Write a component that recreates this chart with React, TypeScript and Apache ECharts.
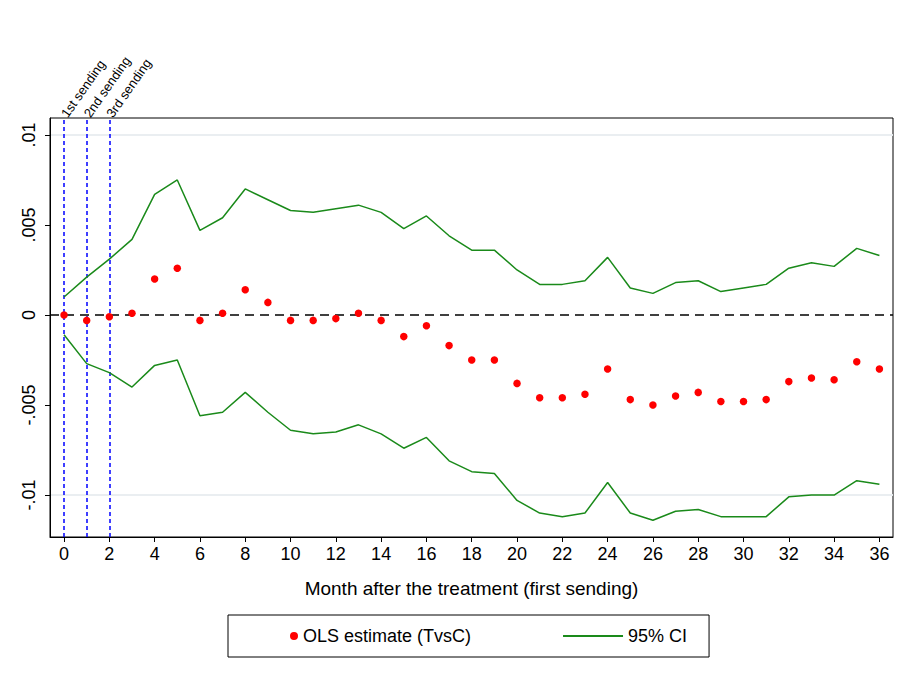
import { useEffect, useRef } from "react";
import * as echarts from "echarts";

const months = Array.from({ length: 37 }, (_, i) => i);
const estimate = [0, -0.0003, -0.0001, 0.0001, 0.002, 0.0026, -0.0003, 0.0001, 0.0014, 0.0007, -0.0003, -0.0003, -0.0002, 0.0001, -0.0003, -0.0012, -0.0006, -0.0017, -0.0025, -0.0025, -0.0038, -0.0046, -0.0046, -0.0044, -0.003, -0.0047, -0.005, -0.0045, -0.0043, -0.0048, -0.0048, -0.0047, -0.0037, -0.0035, -0.0036, -0.0026, -0.003];
const upper = [0.001, 0.0021, 0.0031, 0.0042, 0.0067, 0.0075, 0.0047, 0.0054, 0.007, 0.0064, 0.0058, 0.0057, 0.0059, 0.0061, 0.0057, 0.0048, 0.0055, 0.0044, 0.0036, 0.0036, 0.0025, 0.0017, 0.0017, 0.0019, 0.0032, 0.0015, 0.0012, 0.0018, 0.0019, 0.0013, 0.0015, 0.0017, 0.0026, 0.0029, 0.0027, 0.0037, 0.0033];
const lower = [-0.0011, -0.0027, -0.0032, -0.004, -0.0028, -0.0025, -0.0056, -0.0054, -0.0043, -0.0054, -0.0064, -0.0066, -0.0065, -0.0061, -0.0066, -0.0074, -0.0068, -0.0081, -0.0087, -0.0088, -0.0103, -0.011, -0.0112, -0.011, -0.0093, -0.011, -0.0114, -0.0109, -0.0108, -0.0112, -0.0112, -0.0112, -0.0101, -0.01, -0.01, -0.0092, -0.0094];
const sendings = [
  { month: 0, label: "1st sending" },
  { month: 1, label: "2nd sending" },
  { month: 2, label: "3rd sending" },
];
const yTicks = [-0.01, -0.005, 0, 0.005, 0.01];
const yLabels: Record<string, string> = { "0.01": ".01", "0.005": ".005", "0": "0", "-0.005": "-.005", "-0.01": "-.01" };

const FONT = "Liberation Sans, Arial, sans-serif";

export default function App() {
  const ref = useRef<HTMLDivElement>(null);
  useEffect(() => {
    if (!ref.current) return;
    const chart = echarts.init(ref.current, undefined, { renderer: "svg" });
    chart.setOption({
      animation: false,
      backgroundColor: "#fff",
      textStyle: { fontFamily: FONT },
      grid: { left: 42, right: 9, top: 110, bottom: 140, show: true, borderColor: "#000", borderWidth: 1 },
      legend: {
        bottom: 20,
        left: 220,
        borderColor: "#000",
        borderWidth: 1,
        padding: [12, 22, 12, 10],
        itemGap: 92,
        itemWidth: 60,
        itemHeight: 8,
        textStyle: { fontSize: 18, color: "#000", fontFamily: FONT },
        data: [
          { name: "OLS estimate (TvsC)", icon: "path://M60,4a4,4 0 1,0 -8,0a4,4 0 1,0 8,0ZM0,0h0.01v0.01h-0.01Z", itemStyle: { color: "#f00" } },
          { name: "95% CI", icon: "path://M0,0H60V2H0Z" },
        ],
      },
      xAxis: {
        type: "value",
        min: -0.62,
        max: 36.6,
        interval: 2,
        name: "Month after the treatment (first sending)",
        nameLocation: "middle",
        nameGap: 42,
        nameTextStyle: { fontSize: 19, color: "#000" },
        axisLine: { onZero: false, lineStyle: { color: "#000" } },
        axisTick: { show: true, lineStyle: { color: "#000" }, customValues: months.filter(m => m % 2 === 0) },
        axisLabel: { fontSize: 18, color: "#000", customValues: months.filter(m => m % 2 === 0), formatter: (v: number) => String(v) },
        splitLine: { show: false },
      },
      yAxis: {
        type: "value",
        min: -0.01233,
        max: 0.01094,
        axisLine: { show: true, onZero: false, lineStyle: { color: "#000" } },
        axisTick: { show: true, lineStyle: { color: "#000" }, customValues: yTicks },
        axisLabel: {
          fontSize: 18, color: "#000", rotate: 90, margin: 12,
          customValues: yTicks,
          formatter: (v: number) => yLabels[String(+v.toFixed(3))] ?? "",
        },
        splitLine: { show: false },
      },
      series: [
        {
          name: "grid",
          type: "line",
          data: [],
          z: 0,
          markLine: {
            silent: true,
            symbol: "none",
            z: 0,
            data: [-0.01, -0.005, 0.005, 0.01].map(v => ({ yAxis: v, lineStyle: { color: "#e8edf0", type: "solid", width: 1.5 }, label: { show: false } })),
          },
        },
        {
          name: "OLS estimate (TvsC)",
          type: "scatter",
          data: months.map((m, i) => [m, estimate[i]]),
          symbolSize: 7.5,
          itemStyle: { color: "#f00", opacity: 1 },
          z: 12,
          markLine: {
            silent: true,
            symbol: "none",
            data: [
              { yAxis: 0, lineStyle: { color: "#000", type: [9, 6], width: 1.5 }, label: { show: false } },
              ...sendings.map(s => ({
                xAxis: s.month,
                lineStyle: { color: "#00f", type: [4, 3], width: 1.5 },
                label: { show: true, position: "end", formatter: s.label, rotate: 55, fontSize: 13, color: "#000", align: "left", verticalAlign: "middle", distance: 2, fontFamily: FONT },
              })),
            ],
          },
        },
        {
          name: "95% CI",
          type: "line",
          data: months.map((m, i) => [m, upper[i]]),
          symbol: "none",
          z: 10,
          lineStyle: { color: "#1a8a1a", width: 1.5 },
          itemStyle: { color: "#1a8a1a" },
        },
        {
          name: "95% CI",
          type: "line",
          data: months.map((m, i) => [m, lower[i]]),
          symbol: "none",
          z: 10,
          lineStyle: { color: "#1a8a1a", width: 1.5 },
          itemStyle: { color: "#1a8a1a" },
        },
      ],
    });
    return () => chart.dispose();
  }, []);
  return <div ref={ref} style={{ width: 894, height: 669 }} />;
}
